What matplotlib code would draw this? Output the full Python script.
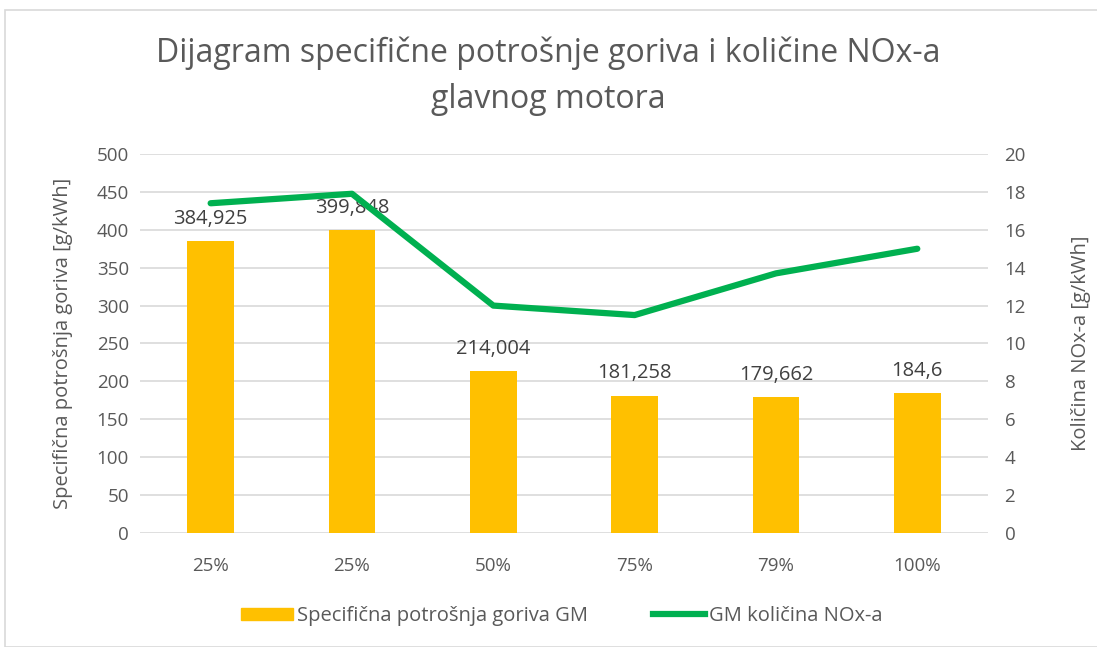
import matplotlib.pyplot as plt
from matplotlib.patches import Rectangle
from matplotlib.lines import Line2D

plt.rcParams['font.family'] = ['Open Sans', 'DejaVu Sans']

# podaci
kategorije = ['25%', '25%', '50%', '75%', '79%', '100%']
potrosnja = [384.925, 399.848, 214.004, 181.258, 179.662, 184.6]
nox = [17.4, 17.9, 12.0, 11.5, 13.7, 15.0]
oznake = ['384,925', '399,848', '214,004', '181,258', '179,662', '184,6']

siva = '#595959'
fig = plt.figure(figsize=(10.97, 6.47), dpi=100)
fig.patches.append(Rectangle((5 / 1097, 0.0), 1.0, 1 - 10 / 647, transform=fig.transFigure,
                             fill=False, edgecolor='#D9D9D9', linewidth=1.2))

ax = fig.add_axes([0.1276, 0.1762, 0.773, 0.5858])
x = range(len(kategorije))
ax.bar(x, potrosnja, width=0.33, color='#FFC000', zorder=2)
for i, (v, t) in enumerate(zip(potrosnja, oznake)):
    ax.text(i, v + 16, t, ha='center', va='bottom', fontsize=14.5, color='#404040')

ax.set_ylim(0, 500)
ax.set_yticks(range(0, 501, 50))
ax.set_xlim(-0.5, 5.5)
ax.set_xticks(list(x))
ax.set_xticklabels(kategorije)
ax.grid(axis='y', color='#D9D9D9', linewidth=1.2, zorder=0)
for s in ax.spines.values():
    s.set_visible(False)
ax.tick_params(length=0, labelsize=13.5, colors=siva, pad=8)
ax.tick_params(axis='x', pad=17)
ax.set_ylabel('Specifična potrošnja goriva [g/kWh]', fontsize=14.5, color=siva, labelpad=17)

ax2 = ax.twinx()
ax2.plot(list(x), nox, color='#00B050', linewidth=4.5, solid_capstyle='round', zorder=3)
ax2.set_ylim(0, 20)
ax2.set_yticks(range(0, 21, 2))
for s in ax2.spines.values():
    s.set_visible(False)
ax2.tick_params(length=0, labelsize=13.5, colors=siva, pad=12)
ax2.set_ylabel('Količina NOx-a [g/kWh]', fontsize=14.5, color=siva, labelpad=32)

fig.text(0.5, 0.882, 'Dijagram specifične potrošnje goriva i količine NOx-a\nglavnog motora',
         ha='center', va='center', fontsize=23, color=siva, linespacing=1.5)

ruke = [Rectangle((0, 0), 1, 1, color='#FFC000'),
        Line2D([0], [0], color='#00B050', linewidth=4.5)]
fig.legend(ruke, ['Specifična potrošnja goriva GM', 'GM količina NOx-a'],
           loc='center', bbox_to_anchor=(0.512, 0.048), ncol=2, frameon=False,
           fontsize=14.5, labelcolor=siva, handlelength=2.6, handleheight=0.5,
           handletextpad=0.2, columnspacing=3.2)

fig.savefig('out.png', dpi=100)
